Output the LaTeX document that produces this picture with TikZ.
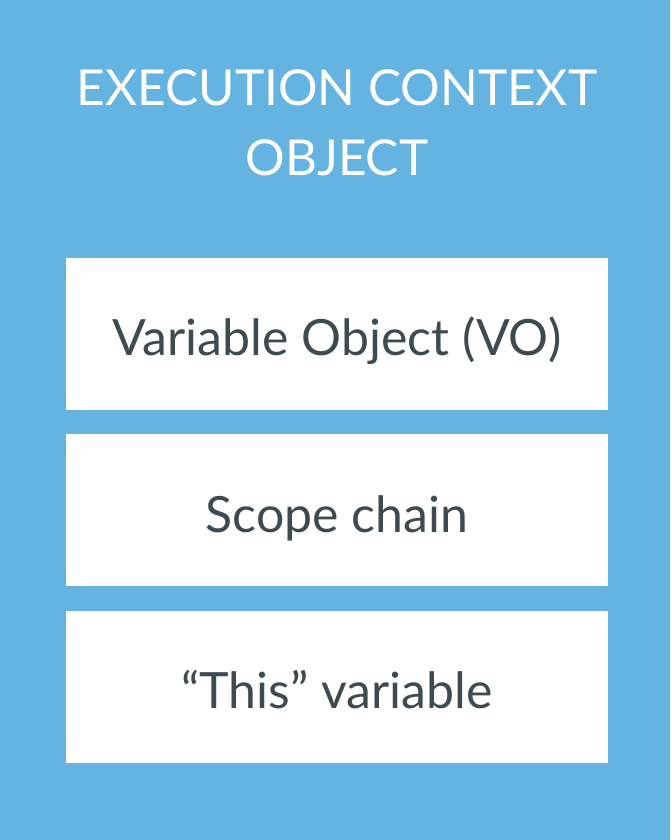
\documentclass[tikz,border=0pt]{standalone}
\usepackage{fontspec}
\setmainfont{Lato}
\usetikzlibrary{positioning}
\definecolor{ecBlue}{HTML}{64B3E0}
\definecolor{ecText}{HTML}{3E4A52}
\tikzset{
    ecBox/.style={
        rectangle,
        fill=white,
        draw=none,
        inner sep=0pt,
        minimum width=542pt,
        minimum height=152pt,
        text height=44pt,
        text depth=0pt,
        text=ecText,
        font=\fontsize{50}{60}\selectfont
    },
    ecTitle/.style={
        text=white,
        align=center,
        inner sep=0pt,
        font=\fontsize{49.5}{70}\selectfont
    }
}

\begin{document}
\begin{tikzpicture}[x=1pt, y=1pt]
            % Background
            \fill[ecBlue] (0,0) rectangle (670,840);
            \useasboundingbox (0,0) rectangle (670,840);
            
            % Title
            \node[ecTitle] (Title) at (337,717) {EXECUTION CONTEXT\\OBJECT};
            
            % Parts
            \node[ecBox] (VarObj) at (337,506) {Variable Object (VO)};
            \node[ecBox, below=24pt of VarObj] (ScopeChain) {Scope chain};
            \node[ecBox, below=24pt of ScopeChain] (ThisVar) {“This” variable};
        \end{tikzpicture}
\end{document}
